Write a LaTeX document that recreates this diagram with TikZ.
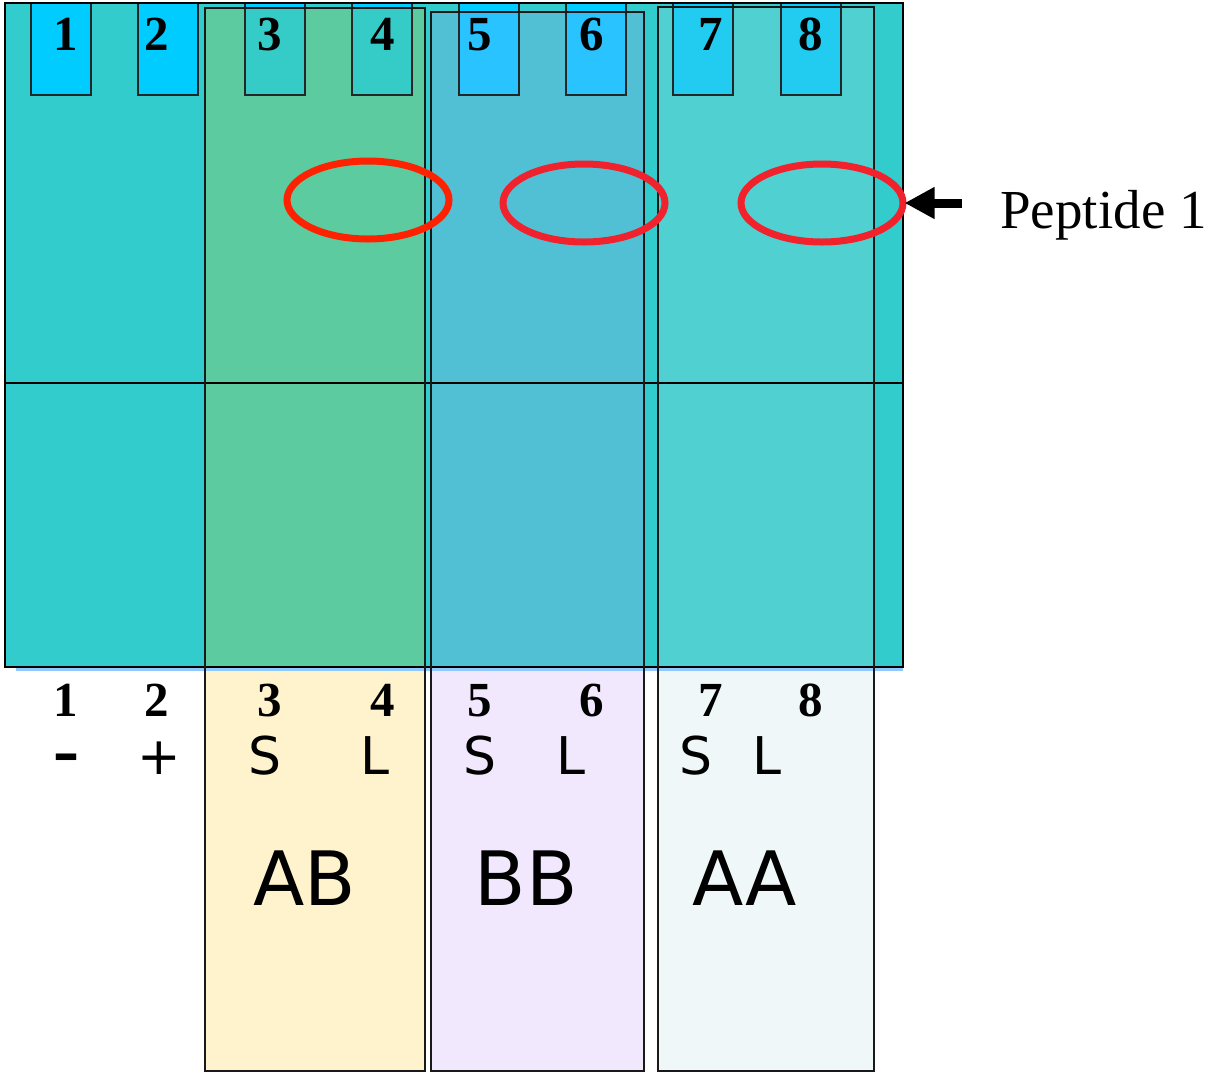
\documentclass[tikz,border=0pt]{standalone}
\usepackage{fontspec}
\setmainfont{Liberation Serif}
\newfontfamily\dv{DejaVu Sans}
\usetikzlibrary{shapes.geometric,arrows.meta}
\definecolor{gel}{HTML}{33CCCC}
\definecolor{wellcyan}{HTML}{00CCFF}
\definecolor{abov}{HTML}{5CCCA0}
\definecolor{bbov}{HTML}{52C0D4}
\definecolor{aaov}{HTML}{50D0D0}
\definecolor{abwell}{HTML}{35CCC8}
\definecolor{bbwell}{HTML}{29C3FF}
\definecolor{aawell}{HTML}{22CCF0}
\definecolor{abbot}{HTML}{FFF3CD}
\definecolor{bbbot}{HTML}{F1E8FE}
\definecolor{aabot}{HTML}{EFF7F9}
\definecolor{shadow}{HTML}{90C8FF}
\definecolor{ringA}{HTML}{FF2200}
\definecolor{ringB}{HTML}{EE2233}
\begin{document}
\begin{tikzpicture}[x=0.5pt,y=-0.5pt,
  wellline/.style={draw=black!85,line width=0.7pt},
  boxline/.style={draw=black!90,line width=0.9pt},
  ring/.style={ellipse,draw,line width=3.5pt,minimum width=81pt,minimum height=39pt,inner sep=0pt,outer sep=0pt},
  numlab/.style={anchor=base,inner sep=0pt,font=\fontsize{24.5}{26}\selectfont\bfseries},
  signlab/.style={anchor=base,inner sep=0pt,font=\dv\fontsize{26}{28}\selectfont},
  grouplab/.style={anchor=base,inner sep=0pt,font=\dv\fontsize{37.5}{40}\selectfont}]
\useasboundingbox (0,0) rectangle (1208,1072);
% gel
\fill[gel] (5,3) rectangle (903,667);
% lane box overlap regions
\fill[abov] (205,8) rectangle (425,667);
\fill[bbov] (431,12) rectangle (644,667);
\fill[aaov] (658,7) rectangle (874,667);
% lane box lower parts
\fill[abbot] (205,667) rectangle (425,1071);
\fill[bbbot] (431,667) rectangle (644,1071);
\fill[aabot] (658,667) rectangle (874,1071);
% wells
\foreach \x/\top/\c in {31/3/wellcyan,138/3/wellcyan,245/8/abwell,352/8/abwell,459/12/bbwell,566/12/bbwell,673/7/aawell,781/7/aawell}{
  \fill[wellcyan] (\x,3) rectangle (\x+60,95);
  \fill[\c] (\x,\top) rectangle (\x+60,95);
  \draw[wellline] (\x,3) rectangle (\x+60,95);
}
% gel middle line and outline
\draw[line width=0.75pt] (5,383) -- (903,383);
\draw[shadow,line width=1.5pt] (16,669.5) -- (903,669.5);
\draw[line width=1pt] (5,3) rectangle (903,667);
% lane boxes
\draw[boxline] (205,8) rectangle (425,1071);
\draw[boxline] (431,12) rectangle (644,1071);
\draw[boxline] (658,7) rectangle (874,1071);
% rings
\node[ring,draw=ringA] (e1) at (368,200) {};
\node[ring,draw=ringB!90!ringA] (e2) at (584,203) {};
\node[ring,draw=ringB!85!ringA] (e3) at (822,203) {};
% arrow and label
\coordinate (tail) at (962,203);
\draw[line width=4.5pt,-{Triangle[length=15pt,width=15pt]}] (tail) -- ([xshift=0.8pt]e3.east);
\node[anchor=base west,inner sep=0pt,font=\fontsize{27.5}{30}\selectfont] (pep) at (1000,228) {Peptide 1};
% numbers
\foreach \x [count=\i] in {66,157,270,383,480,592,711,811}{
  \node[numlab] (t\i) at (\x,50) {\i};
  \node[numlab] (b\i) at (\x,716) {\i};
}
% signs
\node[signlab,font=\dv\bfseries\fontsize{26}{28}\selectfont] (m1) at (66,771) {–};
\node[signlab] (p2) at (159,774) {+};
\node[signlab] (s3) at (265,774) {S};
\node[signlab] (l4) at (375,774) {L};
\node[signlab] (s5) at (480,774) {S};
\node[signlab] (l6) at (571,774) {L};
\node[signlab] (s7) at (696,774) {S};
\node[signlab] (l8) at (767,774) {L};
% groups
\node[grouplab] (ab) at (305,905) {AB};
\node[grouplab] (bb) at (526,905) {BB};
\node[grouplab] (aa) at (745,905) {AA};
\end{tikzpicture}
\end{document}
